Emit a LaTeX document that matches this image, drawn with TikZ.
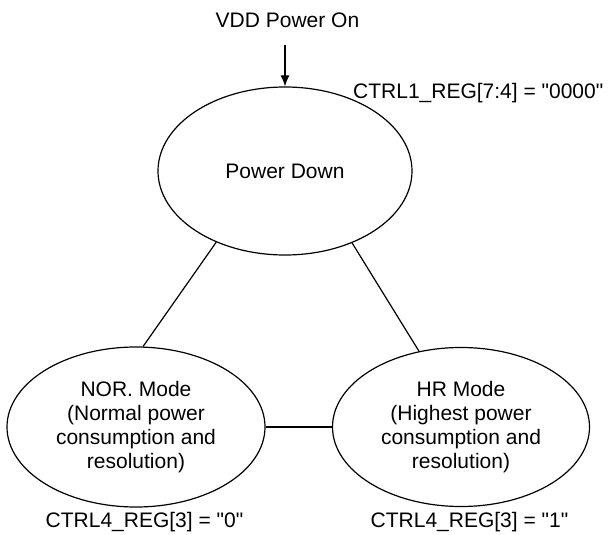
\documentclass[tikz,border=0pt]{standalone}
\usepackage{fontspec}
\setmainfont{Liberation Sans}[Ligatures=TeXOff]
\usetikzlibrary{shapes.geometric,arrows.meta}
\begin{document}
\begin{tikzpicture}[x=1pt,y=-1pt,
  state/.style={draw,ellipse,line width=1.2pt,inner sep=0pt,align=center,font=\fontsize{21}{24}\selectfont},
  lbl/.style={font=\fontsize{21}{24}\selectfont,inner sep=0pt},
  conn/.style={line width=1.2pt}]
\useasboundingbox (0,0) rectangle (608,535);
\node[state,minimum width=254pt,minimum height=168pt] (pd) at (285,171) {Power Down};
\node[state,minimum width=258pt,minimum height=160pt] (nor) at (136,427) {NOR. Mode\\(Normal power\\consumption and\\resolution)};
\node[state,minimum width=257pt,minimum height=159pt] (hr) at (461,427) {HR Mode\\(Highest power\\consumption and\\resolution)};
\node[lbl] (vdd) at (287.5,20) {VDD Power On};
\coordinate (start) at (285,45);
\node[lbl,anchor=west] (ctrl1) at (353,93) {CTRL1\_REG[7:4] = "0000"};
\node[lbl] (c40) at (144.5,522) {CTRL4\_REG[3] = "0"};
\node[lbl] (c41) at (469.5,522) {CTRL4\_REG[3] = "1"};
\draw[conn,-{Latex[length=11pt,width=9pt]}] (start) -- (pd.north);
\draw[conn] (pd.-134) -- (nor.85);
\draw[conn] (pd.-47) -- (hr.119);
\draw[conn] (nor.east) -- (hr.west);
\end{tikzpicture}
\end{document}
